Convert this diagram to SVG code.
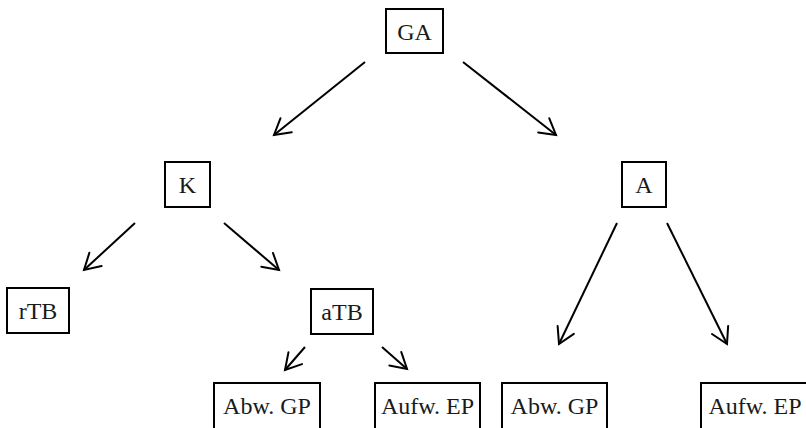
<svg xmlns="http://www.w3.org/2000/svg" width="806" height="428" viewBox="0 0 806 428">
  <style>
    .box { fill: #ffffff; stroke: #000000; stroke-width: 2; }
    .lbl { font-family: "Liberation Serif", "Times New Roman", serif; font-size: 24px; fill: #1a1a1a; text-anchor: middle; }
    .edge { stroke: #000000; stroke-width: 2; fill: none; marker-end: url(#head); }
  </style>
  <defs>
    <marker id="head" markerUnits="userSpaceOnUse" viewBox="-20 -12 24 24" markerWidth="24" markerHeight="24" refX="0" refY="0" orient="auto" overflow="visible">
      <path d="M-15.6,-9 L0,0 L-15.6,9" fill="none" stroke="#000000" stroke-width="2" stroke-linecap="round" stroke-linejoin="miter"/>
    </marker>
  </defs>
  <rect width="806" height="428" fill="#ffffff"/>

  <g id="connectors">
    <line class="edge" x1="365" y1="62" x2="274" y2="135"/>
    <line class="edge" x1="463" y1="62" x2="556" y2="135"/>
    <line class="edge" x1="135" y1="223" x2="84" y2="270"/>
    <line class="edge" x1="224" y1="223" x2="279" y2="270"/>
    <line class="edge" x1="617" y1="223" x2="559" y2="344"/>
    <line class="edge" x1="667" y1="223" x2="727" y2="344"/>
    <line class="edge" x1="305" y1="347" x2="285" y2="370"/>
    <line class="edge" x1="382" y1="347" x2="407" y2="369"/>
  </g>

  <g id="node-GA">
    <rect class="box" x="386" y="9" width="57" height="44"/>
    <text class="lbl" x="414.5" y="39.5">GA</text>
  </g>
  <g id="node-K">
    <rect class="box" x="165" y="162" width="45" height="45"/>
    <text class="lbl" x="187.5" y="193">K</text>
  </g>
  <g id="node-A">
    <rect class="box" x="622" y="162" width="44" height="45"/>
    <text class="lbl" x="644" y="193">A</text>
  </g>
  <g id="node-rTB">
    <rect class="box" x="7" y="288" width="62" height="45"/>
    <text class="lbl" x="38" y="319">rTB</text>
  </g>
  <g id="node-aTB">
    <rect class="box" x="311" y="289" width="62" height="45"/>
    <text class="lbl" x="342" y="320">aTB</text>
  </g>
  <g id="node-AbwGP-1">
    <rect class="box" x="214" y="383" width="106" height="46"/>
    <text class="lbl" x="267" y="414">Abw. GP</text>
  </g>
  <g id="node-AufwEP-1">
    <rect class="box" x="375" y="383" width="105" height="46"/>
    <text class="lbl" x="427.5" y="414">Aufw. EP</text>
  </g>
  <g id="node-AbwGP-2">
    <rect class="box" x="502" y="383" width="105" height="46"/>
    <text class="lbl" x="554.5" y="414">Abw. GP</text>
  </g>
  <g id="node-AufwEP-2">
    <rect class="box" x="701" y="383" width="112" height="46"/>
    <text class="lbl" x="755" y="414">Aufw. EP</text>
  </g>
</svg>
